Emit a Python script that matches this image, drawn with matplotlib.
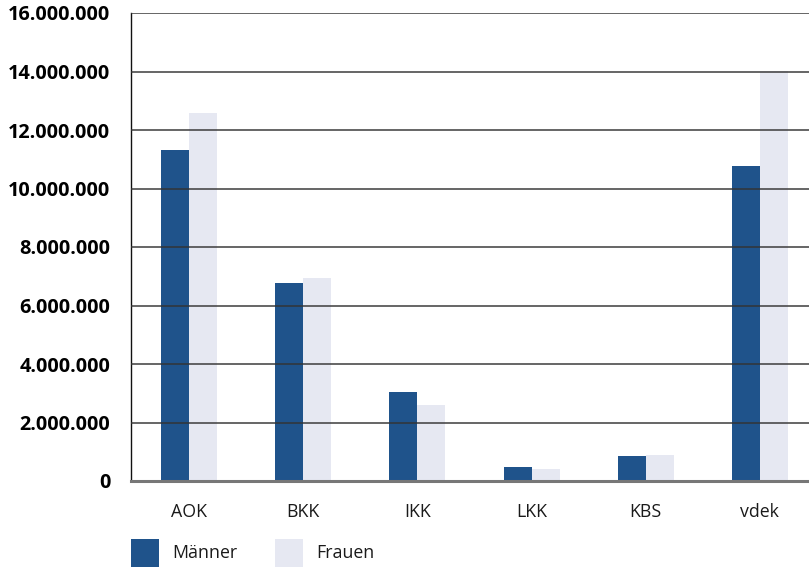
import numpy as np
import matplotlib.pyplot as plt
from matplotlib.patches import Rectangle
from matplotlib.ticker import FuncFormatter

plt.rcParams['font.family'] = ['Open Sans', 'DejaVu Sans']

kassen = ["AOK", "BKK", "IKK", "LKK", "KBS", "vdek"]
maenner = [11.32e6, 6.77e6, 3.04e6, 0.48e6, 0.85e6, 10.77e6]
frauen = [12.57e6, 6.94e6, 2.60e6, 0.41e6, 0.89e6, 14.02e6]
serien = ["Männer", "Frauen"]
farben = ["#1f538b", "#e6e8f2"]

W, H = 809, 567
fig = plt.figure(figsize=(W / 100, H / 100), dpi=100)
ax = fig.add_axes([131 / W, (H - 481) / H, (W - 131) / W, 468 / H])

x = np.arange(len(kassen))
bw = 0.245
ax.bar(x - bw / 2, maenner, bw, color=farben[0], zorder=1)
ax.bar(x + bw / 2, frauen, bw, color=farben[1], zorder=1)

ax.set_xlim(-0.508, 5.43)
ax.set_ylim(0, 16e6)
ax.set_yticks(np.arange(0, 16e6 + 1, 2e6))
ax.yaxis.set_major_formatter(FuncFormatter(lambda v, p: f"{int(v):,}".replace(",", ".")))
ax.grid(axis="y", color="#333333", alpha=0.75, linewidth=1.4, zorder=3)
ax.set_axisbelow(False)

ax.set_xticks(x)
ax.set_xticklabels(kassen, fontsize=12.8)
ax.tick_params(axis="x", length=0, pad=16, colors="#1a1a1a")
ax.tick_params(axis="y", length=0, pad=15, labelsize=14.3)
for lab in ax.get_yticklabels():
    lab.set_fontweight("bold")

for s in ["top", "right"]:
    ax.spines[s].set_visible(False)
ax.spines["left"].set_color("#111111")
ax.spines["left"].set_linewidth(1.0)
ax.spines["bottom"].set_color("#777777")
ax.spines["bottom"].set_linewidth(2.2)
ax.spines["bottom"].set_zorder(4)

# Legende unten
legend_x = [131, 275]
for lx, name, col in zip(legend_x, serien, farben):
    fig.add_artist(Rectangle((lx / W, 0), 28 / W, 28 / H, transform=fig.transFigure,
                             color=col, lw=0))
    fig.text((lx + 41) / W, (H - 553) / H, name, fontsize=12.8, va="center", ha="left",
             color="#1a1a1a")

fig.savefig("out.png", dpi=100)
